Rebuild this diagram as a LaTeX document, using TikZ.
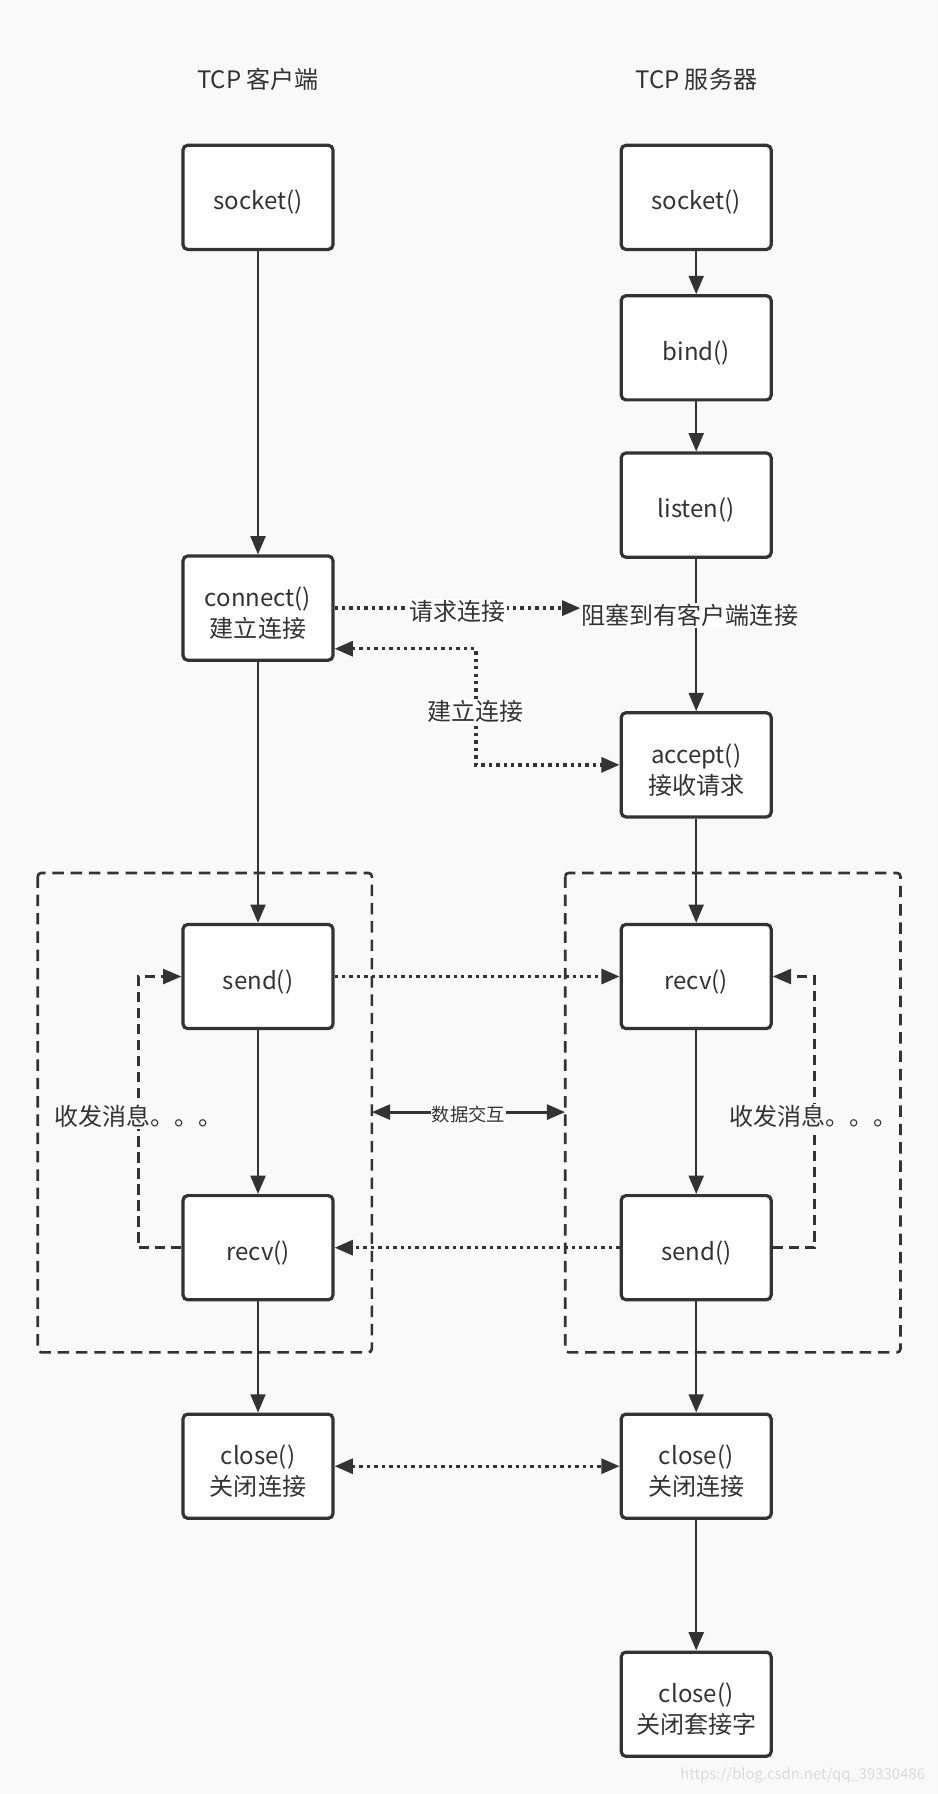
\documentclass[tikz,border=0pt]{standalone}
\usepackage{fontspec}
\setmainfont{Noto Sans CJK SC}
\usetikzlibrary{arrows.meta}
\definecolor{bg}{HTML}{F9F9F9}
\definecolor{ink}{HTML}{333333}
\definecolor{wm}{HTML}{DADADA}
\newcommand\fnode[3]{%
  \node[fbox] (#1) at (#2) {};
  \node[boxtext] (#1t) at ([yshift=-4.5pt]#1.center) {#3};}
\begin{document}
\begin{tikzpicture}[x=1pt,y=-1pt,
  every node/.style={text=ink},
  fbox/.style={draw=ink, line width=2.8pt, fill=white, rounded corners=4pt,
    minimum width=131pt, minimum height=91pt, inner sep=0pt},
  boxtext/.style={inner sep=0pt, align=center, font=\fontsize{21}{27}\selectfont},
  flow/.style={draw=ink, line width=2.2pt, -{Triangle[length=16pt,width=13pt]}},
  dotline/.style={draw=ink, line width=3pt, dash pattern=on 3pt off 3.5pt},
  dotarrow/.style={dotline, -{Triangle[length=16pt,width=13pt]}},
  dotboth/.style={dotline, {Triangle[length=16pt,width=13pt]}-{Triangle[length=16pt,width=13pt]}},
  loopline/.style={draw=ink, line width=2.3pt, dash pattern=on 9pt off 5pt, -{Triangle[length=16pt,width=13pt]}},
  group/.style={draw=ink, line width=2.3pt, dash pattern=on 10pt off 6pt, rounded corners=3pt},
  lbl/.style={fill=white, inner sep=1pt, font=\fontsize{21}{27}\selectfont},
  title/.style={font=\fontsize{21}{27}\selectfont}]
\fill[bg] (0,0) rectangle (819,1568);
\useasboundingbox (0,0) rectangle (819,1568);

% titles
\node[title] (tc) at (225.5,69) {TCP 客户端};
\node[title] (ts) at (608.5,69) {TCP 服务器};

% dashed groups
\draw[group] (33,763) rectangle (325,1182);
\draw[group] (494,763) rectangle (787,1182);
\coordinate (gl) at (325,972);
\coordinate (gr) at (494,972);

% client column
\fnode{csock}{225.5,172.5}{socket()}
\fnode{conn}{225.5,531.5}{connect()\\建立连接}
\fnode{csend}{225.5,853.5}{send()}
\fnode{crecv}{225.5,1090.5}{recv()}
\fnode{cclose}{225.5,1281.5}{close()\\关闭连接}

% server column
\fnode{ssock}{608.5,172.5}{socket()}
\fnode{bind}{608.5,304}{bind()}
\fnode{listen}{608.5,441.5}{listen()}
\fnode{accept}{608.5,668.5}{accept()\\接收请求}
\fnode{srecv}{608.5,853.5}{recv()}
\fnode{ssend}{608.5,1090.5}{send()}
\fnode{sclose}{608.5,1281.5}{close()\\关闭连接}
\fnode{sclose2}{608.5,1489.5}{close()\\关闭套接字}

% vertical flows
\draw[flow] (csock) -- (conn);
\draw[flow] (conn) -- (csend);
\draw[flow] (csend) -- (crecv);
\draw[flow] (crecv) -- (cclose);
\draw[flow] (ssock) -- (bind);
\draw[flow] (bind) -- (listen);
\draw[flow] (listen) -- (accept);
\draw[flow] (accept) -- (srecv);
\draw[flow] (srecv) -- (ssend);
\draw[flow] (ssend) -- (sclose);
\draw[flow] (sclose) -- (sclose2);

% connection request
\node[lbl] (block) at (603,538) {阻塞到有客户端连接};
\draw[dotarrow] (conn.east) -- (conn.east -| block.west)
  node[lbl, pos=0.5, yshift=-3pt] (req) {请求连接};

% connection established
\coordinate (e1) at (416,567);
\coordinate (e2) at (416,668.5);
\draw[dotboth] (conn.east |- e1) -- (e1) -- (e2) -- (accept.west);
\node[lbl] (est) at (416,622) {建立连接};

% data exchange
\draw[dotarrow] (csend.east) -- (srecv.west);
\draw[dotarrow] (ssend.west) -- (crecv.east);

% loops
\coordinate (l1) at (121,1090.5);
\coordinate (l2) at (121,853.5);
\draw[loopline] (crecv.west) -- (l1) -- (l2) -- (csend.west);
\coordinate (r1) at (712,1090.5);
\coordinate (r2) at (712,853.5);
\draw[loopline] (ssend.east) -- (r1) -- (r2) -- (srecv.east);
\node[title, fill=bg, inner sep=1pt] (loopl) at (121,976) {收发消息。。。};
\node[title, fill=bg, inner sep=1pt] (loopr) at (711,976) {收发消息。。。};

% data exchange between groups
\draw[draw=ink, line width=2.8pt, {Triangle[length=16pt,width=13pt]}-{Triangle[length=16pt,width=13pt]}] (gl) -- (gr)
  node[pos=0.5, fill=white, inner sep=1pt, yshift=-2pt, font=\fontsize{16}{20}\selectfont] (dx) {数据交互};

% close
\draw[dotboth] (cclose.east) -- (sclose.west);

% watermark
\node[text=wm, font=\fontsize{13}{15}\selectfont, anchor=east] (wmk) at (812,1552) {https://blog.csdn.net/qq\_39330486};
\end{tikzpicture}
\end{document}
